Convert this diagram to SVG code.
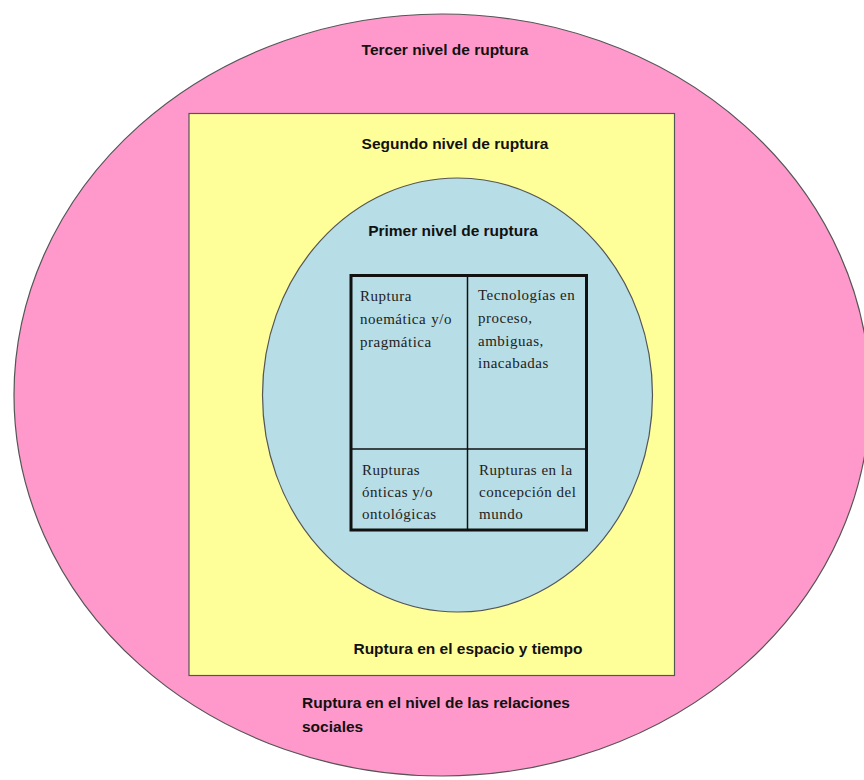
<svg xmlns="http://www.w3.org/2000/svg" width="864" height="780" viewBox="0 0 864 780">
<style>
.shape{stroke:#555;stroke-width:1.2}
.h{font-family:"Liberation Sans",Arial,sans-serif;font-weight:bold;font-size:15.5px;fill:#111}
.c{font-family:"Liberation Serif","Times New Roman",serif;font-size:15px;fill:#222;letter-spacing:0.5px}
.grid{stroke:#111;fill:none}
</style>
<rect width="864" height="780" fill="#fff"/>
<g id="tercer">
<ellipse class="shape" cx="442" cy="395" rx="428" ry="381" fill="#FF99CC"/>
<text class="h" x="445" y="55" text-anchor="middle">Tercer nivel de ruptura</text>
<text class="h" x="302" y="708">Ruptura en el nivel de las relaciones</text>
<text class="h" x="302" y="732">sociales</text>
</g>
<g id="segundo">
<rect class="shape" x="189" y="113.5" width="485.5" height="562" fill="#FFFF99"/>
<text class="h" x="455" y="149" text-anchor="middle">Segundo nivel de ruptura</text>
<text class="h" x="468" y="654" text-anchor="middle">Ruptura en el espacio y tiempo</text>
</g>
<g id="primer">
<ellipse class="shape" cx="457.5" cy="395" rx="195" ry="217" fill="#B7DDE6"/>
<text class="h" x="453" y="236" text-anchor="middle">Primer nivel de ruptura</text>
</g>
<g id="tabla">
<rect class="grid" x="351" y="275.5" width="235.5" height="254.5" stroke-width="3"/>
<line class="grid" x1="467.5" y1="276" x2="467.5" y2="529" stroke-width="1.5"/>
<line class="grid" x1="352" y1="449" x2="585" y2="449" stroke-width="1.5"/>
<text class="c" x="360" y="301">Ruptura</text>
<text class="c" x="360" y="324">noemática</text>
<text class="c" x="452" y="324" text-anchor="end">y/o</text>
<text class="c" x="360" y="347">pragmática</text>
<text class="c" x="478" y="300">Tecnologías en</text>
<text class="c" x="478" y="323">proceso,</text>
<text class="c" x="478" y="346">ambiguas,</text>
<text class="c" x="478" y="368">inacabadas</text>
<text class="c" x="362" y="475">Rupturas</text>
<text class="c" x="362" y="497">ónticas y/o</text>
<text class="c" x="362" y="519">ontológicas</text>
<text class="c" x="479" y="475">Rupturas en la</text>
<text class="c" x="479" y="497">concepción del</text>
<text class="c" x="479" y="519">mundo</text>
</g>
</svg>
